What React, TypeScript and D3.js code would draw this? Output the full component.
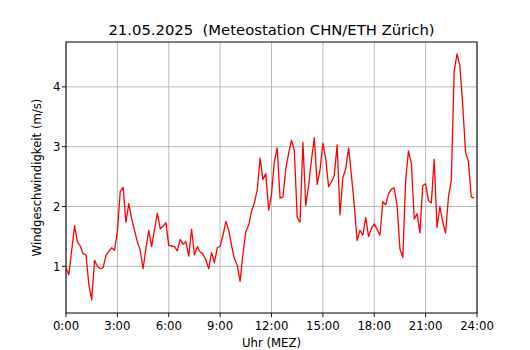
import React from "react";
import * as d3 from "d3";

// 10-minute wind speed values (m/s), 0:00 .. 23:50
const windSpeed: number[] = [
  0.97, 0.86, 1.27, 1.68, 1.41, 1.34, 1.21, 1.19, 0.70, 0.44,
  1.10, 1.00, 0.96, 0.98, 1.18, 1.25, 1.31, 1.27, 1.58, 2.25,
  2.32, 1.74, 2.05, 1.80, 1.60, 1.41, 1.27, 0.96, 1.30, 1.60,
  1.33, 1.61, 1.89, 1.63, 1.67, 1.73, 1.35, 1.34, 1.33, 1.26,
  1.45, 1.37, 1.41, 1.17, 1.62, 1.19, 1.33, 1.24, 1.20, 1.11,
  0.96, 1.23, 1.06, 1.31, 1.34, 1.52, 1.75, 1.61, 1.35, 1.13,
  1.02, 0.75, 1.21, 1.58, 1.69, 1.92, 2.06, 2.28, 2.81, 2.45,
  2.55, 1.94, 2.20, 2.75, 2.98, 2.14, 2.16, 2.63, 2.89, 3.11,
  2.94, 1.82, 1.74, 3.07, 2.02, 2.35, 2.78, 3.15, 2.37, 2.61,
  3.06, 2.80, 2.33, 2.41, 2.52, 3.03, 1.86, 2.48, 2.63, 2.98,
  2.52, 2.02, 1.43, 1.60, 1.52, 1.82, 1.50, 1.63, 1.71, 1.62,
  1.52, 2.08, 2.03, 2.21, 2.29, 2.31, 2.02, 1.29, 1.15, 2.44,
  2.93, 2.72, 1.79, 1.88, 1.56, 2.35, 2.38, 2.10, 2.06, 2.79,
  1.65, 2.00, 1.74, 1.56, 2.16, 2.44, 4.26, 4.55, 4.35, 3.70,
  2.90, 2.75, 2.16, 2.14,
];
const stepMinutes = 10;
const xTickHours: number[] = [0, 3, 6, 9, 12, 15, 18, 21, 24];
const xTickLabels: string[] = ["0:00", "3:00", "6:00", "9:00", "12:00", "15:00", "18:00", "21:00", "24:00"];
const yTicks: number[] = [1, 2, 3, 4];
const titleText = "21.05.2025  (Meteostation CHN/ETH Zürich)";
const xLabelText = "Uhr (MEZ)";
const yLabelText = "Windgeschwindigkeit (m/s)";

export default function App() {
  const W = 530, H = 350;
  const left = 66, right = 477, top = 42, bottom = 313;
  const x = d3.scaleLinear().domain([0, 24]).range([left, right]);
  const y = d3.scaleLinear().domain([0.22, 4.75]).range([bottom, top]);
  const pts: [number, number][] = windSpeed.map((v, i) => [(i * stepMinutes) / 60, v]);
  const line = d3.line<[number, number]>().x((d) => x(d[0])).y((d) => y(d[1]));
  const font = "DejaVu Sans, sans-serif";
  const fs = 11.7;
  const tick = 4.1;
  return (
    <svg width={W} height={H} style={{ position: "absolute", left: 0, top: 0, background: "#fff" }} fontFamily={font}>
      <rect x={0} y={0} width={W} height={H} fill="#fff" />
      {xTickHours.map((h) => (
        <line key={"gx" + h} x1={x(h)} x2={x(h)} y1={top} y2={bottom} stroke="#b0b0b0" strokeWidth={0.9} />
      ))}
      {yTicks.map((t) => (
        <line key={"gy" + t} x1={left} x2={right} y1={y(t)} y2={y(t)} stroke="#b0b0b0" strokeWidth={0.9} />
      ))}
      <path d={line(pts) || ""} fill="none" stroke="#ff0000" strokeWidth={1.3} strokeLinejoin="round" />
      <rect x={left} y={top} width={right - left} height={bottom - top} fill="none" stroke="#000" strokeWidth={1} />
      {xTickHours.map((h, i) => (
        <g key={"tx" + h}>
          <line x1={x(h)} x2={x(h)} y1={bottom} y2={bottom + tick} stroke="#000" strokeWidth={0.9} />
          <text x={x(h)} y={bottom + 8.5} dy="0.76em" textAnchor="middle" fontSize={fs} fill="#000">
            {xTickLabels[i]}
          </text>
        </g>
      ))}
      {yTicks.map((t) => (
        <g key={"ty" + t}>
          <line x1={left - tick} x2={left} y1={y(t)} y2={y(t)} stroke="#000" strokeWidth={0.9} />
          <text x={left - 5.5} y={y(t)} dy="0.36em" textAnchor="end" fontSize={fs} fill="#000">
            {t}
          </text>
        </g>
      ))}
      <text x={(left + right) / 2} y={347.3} textAnchor="middle" fontSize={fs} fill="#000">
        {xLabelText}
      </text>
      <text
        transform={`translate(${40.5},${(top + bottom) / 2}) rotate(-90)`}
        textAnchor="middle"
        fontSize={fs}
        fill="#000"
      >
        {yLabelText}
      </text>
      <text x={(left + right) / 2} y={34.5} textAnchor="middle" fontSize={14.8} fill="#000" style={{ whiteSpace: "pre" }} xmlSpace="preserve">
        {titleText}
      </text>
    </svg>
  );
}
